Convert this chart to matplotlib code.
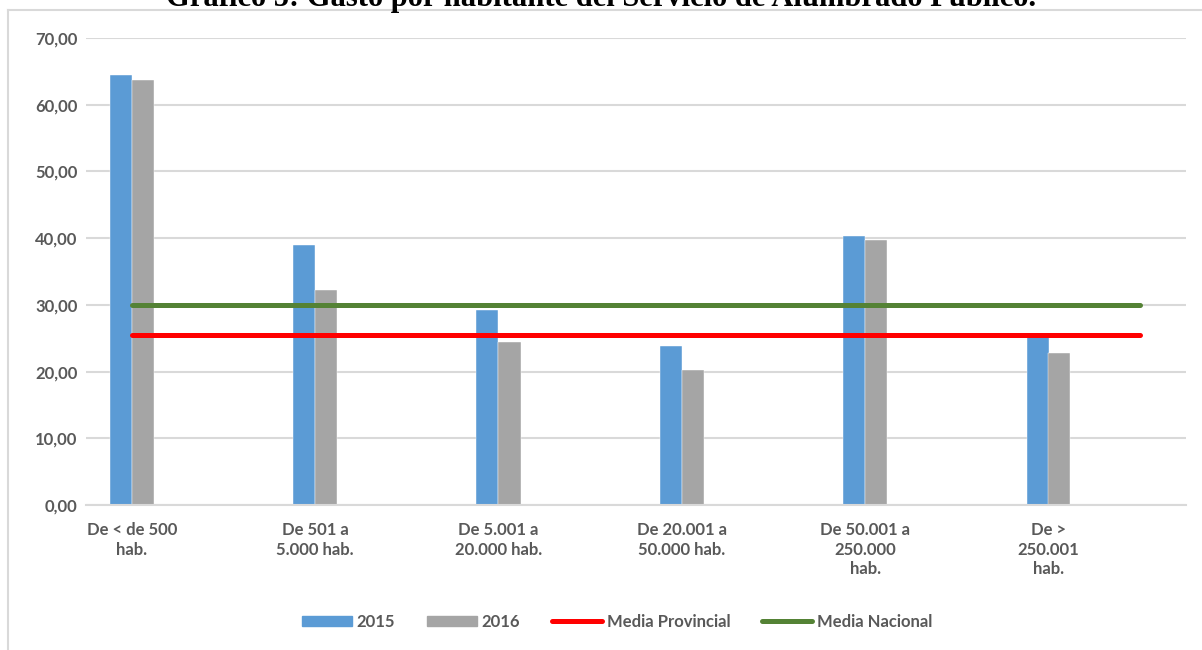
import matplotlib
matplotlib.use("Agg")
from matplotlib import pyplot as plt
from matplotlib.lines import Line2D
from matplotlib.patches import Patch
from matplotlib.ticker import FuncFormatter
import numpy as np

categories = [
    "De < de 500\nhab.",
    "De 501 a\n5.000 hab.",
    "De 5.001 a\n20.000 hab.",
    "De 20.001 a\n50.000 hab.",
    "De 50.001 a\n250.000\nhab.",
    "De >\n250.001\nhab.",
]
gasto_2015 = [64.5, 39.0, 29.3, 23.8, 40.3, 25.5]
gasto_2016 = [63.7, 32.3, 24.5, 20.2, 39.7, 22.8]
media_provincial = 25.5
media_nacional = 30.0

title = "Gráfico 5: Gasto por habitante del Servicio de Alumbrado Público."

blue = "#5B9BD5"
grey = "#A5A5A5"
red = "#FF0000"
green = "#548235"
text_col = "#595959"
grid_col = "#D9D9D9"

plt.rcParams["font.family"] = ["Lato", "DejaVu Sans"]
plt.rcParams["font.weight"] = "bold"
fs = 12

W, H = 1202, 650
fig = plt.figure(figsize=(W / 100, H / 100), dpi=100)
ax = fig.add_axes([86 / W, (H - 505) / H, (1186 - 86) / W, (505 - 38) / H])

x = np.arange(len(categories))
bw = 0.12
ax.bar(x - bw / 2, gasto_2015, width=bw, color=blue, edgecolor="white", linewidth=0.3, zorder=2)
ax.bar(x + bw / 2, gasto_2016, width=bw, color=grey, edgecolor="white", linewidth=0.3, zorder=2)

line_x = [0, len(categories) - 0.5]
ax.plot(line_x, [media_provincial] * 2, color=red, lw=3.6, solid_capstyle="round", zorder=3)
ax.plot(line_x, [media_nacional] * 2, color=green, lw=3.6, solid_capstyle="round", zorder=3)

ax.set_xlim(-0.25, len(categories) - 0.25)
ax.set_ylim(0, 70)
ax.set_yticks(np.arange(0, 71, 10))
ax.yaxis.set_major_formatter(FuncFormatter(lambda v, p: f"{v:.2f}".replace(".", ",")))
ax.set_xticks(x)
ax.set_xticklabels(categories, linespacing=1.3)
ax.tick_params(axis="both", length=0, labelsize=fs, labelcolor=text_col)
ax.tick_params(axis="y", pad=6)
ax.tick_params(axis="x", pad=12)
ax.grid(axis="y", color=grid_col, lw=1.5, zorder=0)
ax.set_axisbelow(True)
for s in ["top", "right", "left"]:
    ax.spines[s].set_visible(False)
ax.spines["bottom"].set_color(grid_col)
ax.spines["bottom"].set_linewidth(1.5)

handles = [
    Patch(color=blue, label="2015"),
    Patch(color=grey, label="2016"),
    Line2D([], [], color=red, lw=3.6, solid_capstyle="round", label="Media Provincial"),
    Line2D([], [], color=green, lw=3.6, solid_capstyle="round", label="Media Nacional"),
]
leg = fig.legend(handles=handles, loc="center", bbox_to_anchor=(617 / W, 1 - 622 / H),
                 ncol=4, frameon=False, fontsize=fs, handlelength=3.0,
                 handleheight=0.6, handletextpad=0.3, columnspacing=1.9)
for t in leg.get_texts():
    t.set_color(text_col)

# chart border (partly cut off in the source)
fig.add_artist(Line2D([8 / W, 8 / W], [0, 1 - 10 / H], transform=fig.transFigure, color=grid_col, lw=1.5))
fig.add_artist(Line2D([8 / W, 1], [1 - 10 / H, 1 - 10 / H], transform=fig.transFigure, color=grid_col, lw=1.5))

fig.text(0.5, 1 - 6 / H, title, ha="center", va="baseline", fontsize=22,
         fontfamily="Liberation Serif", fontweight="bold", color="black")

fig.savefig("out.png", dpi=100)
